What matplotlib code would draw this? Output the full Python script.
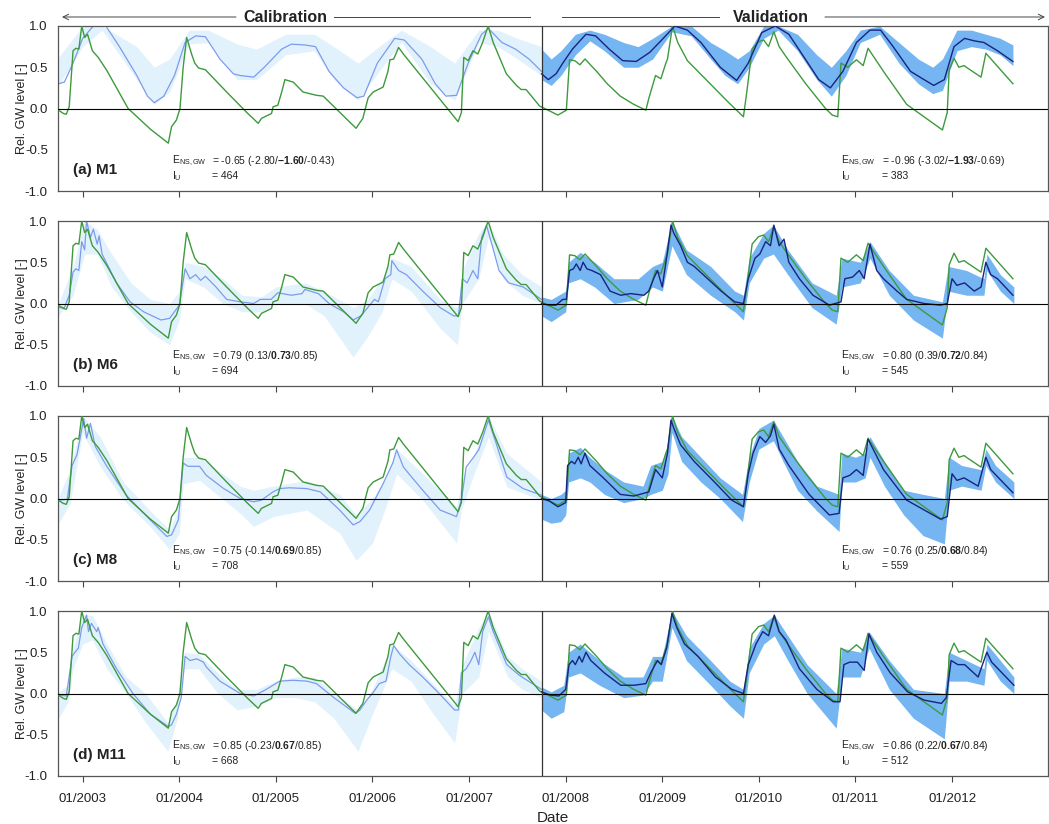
import matplotlib
matplotlib.use("Agg")
import matplotlib.pyplot as plt
from matplotlib.lines import Line2D

plt.rcParams['font.family'] = ['Liberation Sans', 'DejaVu Sans']
plt.rcParams['mathtext.fontset'] = 'custom'
plt.rcParams['mathtext.rm'] = 'Liberation Sans'
plt.rcParams['mathtext.bf'] = 'Liberation Sans:bold'
plt.rcParams['mathtext.it'] = 'Liberation Sans:italic'

# observed relative groundwater level (decimal year, value) - same in every panel
obs = [(2002.748, -0.02), (2002.80, -0.06), (2002.83, -0.07), (2002.86, 0.02), (2002.90, 0.70), (2002.93, 0.73),
       (2002.96, 0.72), (2002.99, 1.00), (2003.02, 0.86), (2003.05, 0.90), (2003.10, 0.70), (2003.16, 0.62),
       (2003.25, 0.46), (2003.47, 0.00), (2003.70, -0.25), (2003.886, -0.42), (2003.92, -0.22), (2003.97, -0.14),
       (2004.007, 0.00), (2004.04, 0.50), (2004.076, 0.86), (2004.13, 0.65), (2004.16, 0.55), (2004.20, 0.49),
       (2004.27, 0.47), (2004.49, 0.20), (2004.70, -0.05), (2004.817, -0.18), (2004.85, -0.12), (2004.92, -0.08),
       (2004.955, -0.06), (2004.97, 0.02), (2005.02, 0.04), (2005.06, 0.20), (2005.093, 0.35), (2005.18, 0.32),
       (2005.28, 0.20), (2005.42, 0.16), (2005.49, 0.15), (2005.83, -0.24), (2005.87, -0.17), (2005.90, -0.12),
       (2005.955, 0.13), (2006.007, 0.20), (2006.11, 0.26), (2006.16, 0.45), (2006.18, 0.59), (2006.22, 0.60),
       (2006.27, 0.74), (2006.32, 0.66), (2006.886, -0.16), (2006.92, -0.05), (2006.945, 0.62), (2006.99, 0.58),
       (2007.04, 0.70), (2007.09, 0.66), (2007.14, 0.80), (2007.197, 1.00), (2007.25, 0.80), (2007.386, 0.42),
       (2007.49, 0.28), (2007.54, 0.23), (2007.59, 0.23), (2007.73, 0.03), (2007.92, -0.08), (2008.007, -0.02),
       (2008.04, 0.59), (2008.094, 0.58), (2008.147, 0.53), (2008.20, 0.60), (2008.32, 0.45), (2008.43, 0.30),
       (2008.565, 0.15), (2008.705, 0.05), (2008.83, -0.02), (2008.86, 0.12), (2008.93, 0.40), (2008.985, 0.36),
       (2009.037, 0.55), (2009.054, 0.60), (2009.106, 1.00), (2009.16, 0.80), (2009.26, 0.58), (2009.47, 0.33),
       (2009.68, 0.08), (2009.84, -0.10), (2009.875, 0.20), (2009.93, 0.72), (2009.996, 0.81), (2010.05, 0.83),
       (2010.10, 0.75), (2010.155, 0.93), (2010.21, 0.75), (2010.28, 0.63), (2010.485, 0.30), (2010.69, 0.00),
       (2010.76, -0.08), (2010.817, -0.10), (2010.85, 0.55), (2010.92, 0.50), (2011.01, 0.59), (2011.08, 0.52),
       (2011.13, 0.73), (2011.29, 0.45), (2011.53, 0.05), (2011.90, -0.26), (2011.95, -0.05), (2011.97, 0.47),
       (2012.02, 0.61), (2012.07, 0.50), (2012.125, 0.52), (2012.16, 0.49), (2012.30, 0.38), (2012.35, 0.67),
       (2012.63, 0.30)]

# ---- M1 ----
m1_cal = [(2002.75, 0.30), (2002.81, 0.32), (2002.90, 0.55), (2003.00, 0.85), (2003.11, 1.00), (2003.24, 1.00),
          (2003.38, 0.75), (2003.56, 0.40), (2003.67, 0.15), (2003.74, 0.07), (2003.84, 0.15), (2003.95, 0.40),
          (2004.06, 0.80), (2004.17, 0.88), (2004.27, 0.87), (2004.42, 0.60), (2004.56, 0.42), (2004.63, 0.40),
          (2004.77, 0.38), (2004.88, 0.50), (2005.06, 0.72), (2005.16, 0.78), (2005.30, 0.77), (2005.41, 0.75),
          (2005.55, 0.45), (2005.70, 0.25), (2005.84, 0.13), (2005.91, 0.15), (2006.05, 0.55), (2006.23, 0.85),
          (2006.33, 0.83), (2006.51, 0.60), (2006.65, 0.30), (2006.76, 0.15), (2006.87, 0.16), (2006.99, 0.55),
          (2007.13, 0.90), (2007.20, 0.97), (2007.34, 0.80), (2007.48, 0.72), (2007.62, 0.60), (2007.75, 0.45)]
m1_cal_band = [(2002.75, 0.28, 0.62), (2003.00, 0.75, 1.00), (2003.20, 0.95, 1.00), (2003.56, 0.35, 0.75),
               (2003.74, 0.05, 0.50), (2003.90, 0.20, 0.60), (2004.10, 0.78, 0.95), (2004.30, 0.80, 0.95),
               (2004.60, 0.35, 0.78), (2004.80, 0.35, 0.72), (2005.10, 0.65, 0.90), (2005.40, 0.70, 0.90),
               (2005.60, 0.35, 0.75), (2005.85, 0.10, 0.55), (2006.10, 0.50, 0.78), (2006.30, 0.80, 0.95),
               (2006.60, 0.30, 0.75), (2006.85, 0.10, 0.55), (2007.10, 0.80, 0.95), (2007.30, 0.75, 0.95),
               (2007.50, 0.60, 0.85), (2007.75, 0.40, 0.75)]
m1_val = [(2007.75, 0.42), (2007.82, 0.35), (2007.90, 0.42), (2007.97, 0.55), (2008.07, 0.72), (2008.21, 0.90),
          (2008.31, 0.88), (2008.45, 0.72), (2008.59, 0.58), (2008.73, 0.57), (2008.87, 0.68), (2009.01, 0.85),
          (2009.13, 1.00), (2009.26, 0.95), (2009.40, 0.80), (2009.60, 0.50), (2009.77, 0.34), (2009.89, 0.55),
          (2010.03, 0.92), (2010.17, 1.00), (2010.31, 0.90), (2010.48, 0.60), (2010.62, 0.35), (2010.74, 0.25),
          (2010.87, 0.45), (2011.01, 0.80), (2011.15, 0.95), (2011.26, 0.95), (2011.39, 0.75), (2011.57, 0.45),
          (2011.71, 0.35), (2011.81, 0.28), (2011.92, 0.35), (2012.02, 0.75), (2012.13, 0.85), (2012.23, 0.82),
          (2012.33, 0.80), (2012.47, 0.70), (2012.63, 0.57)]
m1_val_band = [(2007.75, 0.35, 0.72), (2007.85, 0.28, 0.60), (2007.95, 0.40, 0.70), (2008.10, 0.65, 0.90),
               (2008.25, 0.82, 0.95), (2008.40, 0.70, 0.90), (2008.60, 0.50, 0.80), (2008.75, 0.50, 0.75),
               (2008.90, 0.60, 0.85), (2009.10, 0.93, 1.00), (2009.30, 0.88, 1.00), (2009.50, 0.60, 0.80),
               (2009.65, 0.40, 0.70), (2009.78, 0.30, 0.60), (2009.90, 0.50, 0.70), (2010.05, 0.85, 1.00),
               (2010.20, 0.95, 1.00), (2010.40, 0.70, 0.90), (2010.60, 0.35, 0.65), (2010.75, 0.15, 0.50),
               (2010.90, 0.40, 0.70), (2011.05, 0.80, 0.95), (2011.25, 0.90, 1.00), (2011.45, 0.55, 0.80),
               (2011.65, 0.30, 0.60), (2011.80, 0.18, 0.50), (2011.90, 0.22, 0.60), (2012.05, 0.70, 0.95),
               (2012.20, 0.75, 0.95), (2012.35, 0.72, 0.90), (2012.50, 0.65, 0.85), (2012.63, 0.52, 0.77)]

# ---- M6 ----
m6_cal = [(2002.75, -0.05), (2002.81, -0.05), (2002.86, 0.10), (2002.90, 0.38), (2002.93, 0.42), (2002.96, 0.40),
          (2002.99, 0.75), (2003.02, 0.65), (2003.04, 1.00), (2003.08, 0.80), (2003.11, 0.90), (2003.15, 0.72),
          (2003.17, 0.82), (2003.20, 0.60), (2003.35, 0.25), (2003.49, 0.02), (2003.63, -0.10), (2003.81, -0.20),
          (2003.90, -0.18), (2003.95, -0.10), (2004.00, -0.02), (2004.06, 0.42), (2004.11, 0.30), (2004.17, 0.35),
          (2004.22, 0.28), (2004.27, 0.33), (2004.38, 0.20), (2004.49, 0.05), (2004.63, 0.02), (2004.77, 0.00),
          (2004.84, 0.05), (2004.95, 0.05), (2005.02, 0.13), (2005.16, 0.10), (2005.27, 0.12), (2005.30, 0.17),
          (2005.44, 0.12), (2005.55, 0.00), (2005.70, -0.10), (2005.80, -0.20), (2005.88, -0.15), (2005.95, -0.05),
          (2006.02, 0.05), (2006.06, 0.02), (2006.13, 0.30), (2006.19, 0.35), (2006.20, 0.52), (2006.27, 0.40),
          (2006.35, 0.35), (2006.52, 0.15), (2006.70, -0.05), (2006.84, -0.15), (2006.89, -0.15), (2006.93, 0.30),
          (2006.98, 0.25), (2007.04, 0.40), (2007.09, 0.30), (2007.13, 0.80), (2007.18, 0.95), (2007.24, 0.70),
          (2007.31, 0.40), (2007.41, 0.25), (2007.56, 0.20), (2007.75, 0.05)]
m6_cal_band = [(2002.75, -0.15, 0.00), (2002.90, 0.10, 0.45), (2003.02, 0.60, 1.00), (2003.15, 0.60, 0.90),
               (2003.30, 0.20, 0.60), (2003.50, -0.10, 0.25), (2003.70, -0.35, 0.05), (2003.90, -0.50, 0.00),
               (2004.00, -0.20, 0.15), (2004.06, 0.30, 0.50), (2004.25, 0.20, 0.45), (2004.45, 0.00, 0.30),
               (2004.65, -0.10, 0.10), (2004.85, -0.10, 0.08), (2005.00, 0.00, 0.20), (2005.30, 0.00, 0.25),
               (2005.50, -0.15, 0.15), (2005.80, -0.65, -0.05), (2005.95, -0.40, 0.05), (2006.10, -0.10, 0.30),
               (2006.20, 0.30, 0.55), (2006.40, 0.15, 0.45), (2006.70, -0.30, 0.05), (2006.88, -0.50, -0.05),
               (2006.93, 0.00, 0.40), (2007.10, 0.30, 0.85), (2007.20, 0.80, 1.00), (2007.35, 0.30, 0.60),
               (2007.55, 0.10, 0.35), (2007.75, 0.00, 0.20)]
m6_val = [(2007.75, 0.00), (2007.83, -0.02), (2007.90, -0.02), (2007.97, 0.05), (2008.007, 0.05), (2008.04, 0.40),
          (2008.08, 0.42), (2008.11, 0.48), (2008.15, 0.40), (2008.18, 0.50), (2008.22, 0.42), (2008.27, 0.40),
          (2008.36, 0.35), (2008.46, 0.15), (2008.57, 0.10), (2008.67, 0.12), (2008.81, 0.10), (2008.86, 0.15),
          (2008.91, 0.30), (2008.95, 0.40), (2009.00, 0.20), (2009.05, 0.60), (2009.09, 0.95), (2009.12, 0.85),
          (2009.19, 0.70), (2009.26, 0.50), (2009.33, 0.45), (2009.47, 0.30), (2009.61, 0.15), (2009.75, 0.02),
          (2009.84, 0.00), (2009.89, 0.30), (2009.96, 0.55), (2010.01, 0.60), (2010.07, 0.75), (2010.12, 0.70),
          (2010.155, 0.95), (2010.21, 0.70), (2010.26, 0.78), (2010.31, 0.50), (2010.42, 0.30), (2010.56, 0.10),
          (2010.73, -0.02), (2010.85, 0.02), (2010.89, 0.30), (2010.97, 0.32), (2011.04, 0.40), (2011.09, 0.30),
          (2011.15, 0.72), (2011.22, 0.40), (2011.29, 0.30), (2011.43, 0.15), (2011.53, 0.05), (2011.71, 0.00),
          (2011.88, -0.02), (2011.95, 0.00), (2012.00, 0.30), (2012.05, 0.22), (2012.13, 0.25), (2012.23, 0.15),
          (2012.30, 0.20), (2012.35, 0.50), (2012.40, 0.35), (2012.47, 0.30), (2012.63, 0.10)]
m6_val_band = [(2007.75, -0.15, 0.08), (2007.85, -0.22, 0.05), (2008.00, -0.10, 0.15), (2008.03, 0.25, 0.50),
               (2008.15, 0.30, 0.62), (2008.30, 0.20, 0.50), (2008.50, 0.00, 0.30), (2008.75, 0.05, 0.30),
               (2008.90, 0.20, 0.45), (2009.00, 0.15, 0.50), (2009.10, 0.70, 1.00), (2009.25, 0.35, 0.65),
               (2009.50, 0.10, 0.45), (2009.75, -0.10, 0.15), (2009.84, -0.20, 0.10), (2009.90, 0.25, 0.55),
               (2010.05, 0.55, 0.85), (2010.15, 0.60, 0.95), (2010.30, 0.35, 0.65), (2010.55, -0.05, 0.25),
               (2010.80, -0.25, 0.10), (2010.86, 0.20, 0.55), (2011.05, 0.25, 0.50), (2011.15, 0.55, 0.75),
               (2011.35, 0.10, 0.40), (2011.60, -0.20, 0.10), (2011.90, -0.42, 0.02), (2011.96, 0.15, 0.45),
               (2012.15, 0.10, 0.40), (2012.33, 0.10, 0.30), (2012.36, 0.40, 0.60), (2012.50, 0.15, 0.35),
               (2012.64, 0.00, 0.20)]

# ---- M8 ----
m8_cal = [(2002.75, -0.02), (2002.84, -0.01), (2002.89, 0.40), (2002.94, 0.53), (2002.97, 0.71), (2003.01, 0.97),
          (2003.04, 0.73), (2003.08, 0.91), (2003.13, 0.63), (2003.25, 0.39), (2003.45, 0.04), (2003.70, -0.26),
          (2003.87, -0.46), (2003.92, -0.44), (2003.99, -0.26), (2004.04, 0.43), (2004.09, 0.39), (2004.21, 0.39),
          (2004.28, 0.28), (2004.46, 0.12), (2004.63, 0.00), (2004.77, -0.04), (2004.85, -0.02), (2004.97, 0.08),
          (2005.04, 0.12), (2005.14, 0.13), (2005.32, 0.12), (2005.46, 0.08), (2005.66, -0.14), (2005.80, -0.32),
          (2005.87, -0.28), (2005.97, -0.14), (2006.11, 0.18), (2006.21, 0.43), (2006.25, 0.59), (2006.32, 0.38),
          (2006.52, 0.10), (2006.70, -0.14), (2006.87, -0.22), (2006.92, -0.02), (2006.97, 0.38), (2007.04, 0.49),
          (2007.10, 0.59), (2007.20, 0.95), (2007.28, 0.67), (2007.39, 0.26), (2007.56, 0.12), (2007.75, 0.04)]
m8_cal_band = [(2002.75, -0.30, 0.02), (2002.87, -0.06, 0.35), (2003.00, 0.80, 1.00), (2003.18, 0.39, 0.75),
               (2003.42, -0.02, 0.20), (2003.70, -0.34, -0.15), (2003.90, -0.62, -0.38), (2004.00, -0.42, -0.10),
               (2004.04, 0.18, 0.50), (2004.21, 0.22, 0.50), (2004.63, -0.18, 0.15), (2004.77, -0.34, 0.10),
               (2004.97, -0.22, 0.15), (2005.32, -0.14, 0.22), (2005.66, -0.42, 0.05), (2005.83, -0.75, -0.20),
               (2006.00, -0.54, 0.00), (2006.14, -0.10, 0.25), (2006.25, 0.30, 0.60), (2006.52, -0.02, 0.30),
               (2006.87, -0.54, -0.10), (2006.92, -0.14, 0.20), (2007.04, 0.26, 0.50), (2007.20, 0.75, 1.00),
               (2007.39, 0.14, 0.55), (2007.75, -0.02, 0.20)]
m8_val = [(2007.75, 0.00), (2007.83, -0.03), (2007.92, -0.10), (2008.00, -0.05), (2008.02, 0.40), (2008.06, 0.45),
          (2008.094, 0.42), (2008.13, 0.50), (2008.16, 0.42), (2008.20, 0.55), (2008.25, 0.40), (2008.39, 0.25),
          (2008.565, 0.05), (2008.705, 0.03), (2008.86, 0.08), (2008.93, 0.35), (2009.00, 0.25), (2009.054, 0.55),
          (2009.09, 0.95), (2009.12, 0.85), (2009.19, 0.65), (2009.33, 0.45), (2009.54, 0.20), (2009.72, -0.02),
          (2009.84, -0.10), (2009.89, 0.30), (2009.94, 0.55), (2010.01, 0.75), (2010.07, 0.68), (2010.12, 0.76),
          (2010.155, 0.90), (2010.21, 0.60), (2010.31, 0.40), (2010.52, 0.05), (2010.73, -0.20), (2010.83, -0.18),
          (2010.87, 0.25), (2010.94, 0.28), (2011.01, 0.35), (2011.08, 0.28), (2011.13, 0.72), (2011.29, 0.35),
          (2011.53, -0.02), (2011.88, -0.25), (2011.95, -0.22), (2012.00, 0.30), (2012.05, 0.22), (2012.125, 0.25),
          (2012.27, 0.15), (2012.35, 0.50), (2012.40, 0.35), (2012.63, 0.07)]
m8_val_band = [(2007.75, -0.25, 0.05), (2007.85, -0.30, 0.00), (2007.95, -0.28, 0.05), (2008.00, -0.20, 0.10),
               (2008.03, 0.20, 0.55), (2008.15, 0.25, 0.62), (2008.25, 0.20, 0.50), (2008.40, 0.05, 0.35),
               (2008.60, -0.05, 0.20), (2008.80, 0.00, 0.15), (2008.88, 0.05, 0.40), (2009.00, 0.10, 0.45),
               (2009.06, 0.30, 0.65), (2009.10, 0.80, 1.00), (2009.20, 0.45, 0.75), (2009.40, 0.20, 0.50),
               (2009.60, 0.00, 0.25), (2009.83, -0.28, 0.05), (2009.90, 0.20, 0.50), (2010.00, 0.60, 0.85),
               (2010.15, 0.70, 0.95), (2010.25, 0.45, 0.75), (2010.40, 0.10, 0.45), (2010.60, -0.15, 0.15),
               (2010.83, -0.40, 0.05), (2010.86, 0.20, 0.55), (2011.00, 0.20, 0.50), (2011.10, 0.25, 0.55),
               (2011.15, 0.50, 0.75), (2011.30, 0.15, 0.45), (2011.50, -0.20, 0.10), (2011.70, -0.45, 0.05),
               (2011.92, -0.55, 0.00), (2011.97, 0.10, 0.50), (2012.10, 0.15, 0.40), (2012.30, 0.10, 0.35),
               (2012.35, 0.40, 0.60), (2012.45, 0.20, 0.40), (2012.64, 0.00, 0.20)]

# ---- M11 ----
m11_cal = [(2002.75, -0.02), (2002.83, -0.03), (2002.89, 0.45), (2002.92, 0.50), (2002.955, 0.55), (2002.99, 0.80),
           (2003.04, 0.95), (2003.06, 0.75), (2003.09, 0.85), (2003.145, 0.75), (2003.16, 0.80), (2003.21, 0.60),
           (2003.35, 0.30), (2003.52, 0.00), (2003.70, -0.25), (2003.886, -0.40), (2003.92, -0.38), (2003.97, -0.25),
           (2004.02, -0.05), (2004.06, 0.45), (2004.11, 0.40), (2004.18, 0.42), (2004.25, 0.38), (2004.28, 0.32),
           (2004.42, 0.15), (2004.63, 0.00), (2004.77, -0.03), (2004.82, 0.00), (2004.90, 0.05), (2004.97, 0.10),
           (2005.04, 0.15), (2005.18, 0.16), (2005.32, 0.15), (2005.42, 0.12), (2005.60, -0.05), (2005.82, -0.24),
           (2005.87, -0.20), (2005.94, -0.08), (2006.00, 0.00), (2006.07, 0.12), (2006.14, 0.15), (2006.19, 0.45),
           (2006.22, 0.58), (2006.28, 0.48), (2006.38, 0.35), (2006.52, 0.20), (2006.69, 0.00), (2006.85, -0.20),
           (2006.89, -0.20), (2006.92, 0.25), (2006.97, 0.30), (2007.02, 0.40), (2007.06, 0.50), (2007.10, 0.35),
           (2007.14, 0.75), (2007.20, 0.93), (2007.25, 0.75), (2007.39, 0.35), (2007.52, 0.22), (2007.75, 0.05)]
m11_cal_band = [(2002.75, -0.30, 0.02), (2002.85, -0.10, 0.10), (2002.90, 0.30, 0.55), (2003.00, 0.60, 0.95),
                (2003.10, 0.65, 0.95), (2003.25, 0.30, 0.60), (2003.45, 0.00, 0.20), (2003.65, -0.35, 0.00),
                (2003.88, -0.70, -0.35), (2003.98, -0.30, -0.05), (2004.05, 0.30, 0.50), (2004.20, 0.30, 0.48),
                (2004.40, 0.00, 0.25), (2004.60, -0.20, 0.05), (2004.80, -0.15, 0.05), (2005.00, -0.05, 0.15),
                (2005.20, -0.05, 0.20), (2005.40, -0.10, 0.20), (2005.60, -0.30, 0.00), (2005.85, -0.70, -0.20),
                (2006.00, -0.25, 0.05), (2006.20, 0.30, 0.60), (2006.40, 0.15, 0.40), (2006.60, -0.20, 0.15),
                (2006.85, -0.60, -0.15), (2006.93, 0.00, 0.35), (2007.10, 0.20, 0.80), (2007.20, 0.75, 1.00),
                (2007.40, 0.20, 0.45), (2007.55, 0.05, 0.30), (2007.75, -0.05, 0.15)]
m11_val = [(2007.75, 0.02), (2007.84, -0.02), (2007.93, -0.03), (2008.00, 0.05), (2008.035, 0.35), (2008.07, 0.40),
           (2008.10, 0.35), (2008.14, 0.45), (2008.17, 0.38), (2008.21, 0.50), (2008.26, 0.40), (2008.40, 0.25),
           (2008.57, 0.10), (2008.71, 0.10), (2008.83, 0.12), (2008.88, 0.25), (2008.95, 0.40), (2008.99, 0.35),
           (2009.045, 0.55), (2009.10, 0.97), (2009.15, 0.80), (2009.23, 0.60), (2009.37, 0.45), (2009.55, 0.20),
           (2009.72, 0.05), (2009.84, 0.00), (2009.89, 0.35), (2009.97, 0.60), (2010.04, 0.75), (2010.10, 0.70),
           (2010.16, 0.95), (2010.21, 0.75), (2010.28, 0.65), (2010.42, 0.30), (2010.60, 0.05), (2010.77, -0.10),
           (2010.84, -0.10), (2010.88, 0.35), (2010.94, 0.38), (2011.02, 0.38), (2011.09, 0.28), (2011.14, 0.72),
           (2011.22, 0.50), (2011.36, 0.25), (2011.54, 0.02), (2011.71, -0.08), (2011.89, -0.12), (2011.94, -0.05),
           (2011.99, 0.40), (2012.06, 0.35), (2012.13, 0.35), (2012.27, 0.20), (2012.36, 0.50), (2012.41, 0.38),
           (2012.64, 0.10)]
m11_val_band = [(2007.75, -0.20, 0.08), (2007.85, -0.30, 0.02), (2007.98, -0.22, 0.10), (2008.03, 0.20, 0.50),
                (2008.15, 0.25, 0.60), (2008.35, 0.10, 0.40), (2008.60, -0.05, 0.20), (2008.80, -0.02, 0.20),
                (2008.90, 0.15, 0.45), (2009.00, 0.15, 0.45), (2009.10, 0.80, 1.00), (2009.25, 0.40, 0.70),
                (2009.50, 0.10, 0.40), (2009.70, -0.15, 0.15), (2009.84, -0.30, 0.05), (2009.90, 0.25, 0.55),
                (2010.05, 0.60, 0.85), (2010.16, 0.70, 0.95), (2010.30, 0.40, 0.70), (2010.50, 0.00, 0.35),
                (2010.80, -0.42, 0.00), (2010.86, 0.20, 0.55), (2011.05, 0.20, 0.50), (2011.14, 0.55, 0.75),
                (2011.35, 0.05, 0.40), (2011.60, -0.30, 0.05), (2011.92, -0.55, 0.00), (2011.97, 0.15, 0.50),
                (2012.15, 0.15, 0.40), (2012.33, 0.10, 0.30), (2012.36, 0.40, 0.60), (2012.50, 0.15, 0.40),
                (2012.64, 0.00, 0.20)]

panel_labels = ['(a) M1', '(b) M6', '(c) M8', '(d) M11']
# E_NS,GW: value (min / bold median / max) and I_U, calibration and validation
e_cal = [-0.65, 0.79, 0.75, 0.85]
e_cal_min = [-2.80, 0.13, -0.14, -0.23]
e_cal_mid = [-1.60, 0.73, 0.69, 0.67]
e_cal_max = [-0.43, 0.85, 0.85, 0.85]
iu_cal = [464, 694, 708, 668]
e_val = [-0.96, 0.80, 0.76, 0.86]
e_val_min = [-3.02, 0.39, 0.25, 0.22]
e_val_mid = [-1.93, 0.72, 0.68, 0.67]
e_val_max = [-0.69, 0.84, 0.84, 0.84]
iu_val = [383, 545, 559, 512]

years = list(range(2003, 2013))
split = 2007.75

cal_line_c = '#7d9bec'
cal_band_c = '#e2f2fc'
val_line_c = '#1a237e'
val_band_c = '#74b5f2'
obs_c = '#3d9a3d'
txt_c = '#222222'

series = [(m1_cal, m1_cal_band, m1_val, m1_val_band),
          (m6_cal, m6_cal_band, m6_val, m6_val_band),
          (m8_cal, m8_cal_band, m8_val, m8_val_band),
          (m11_cal, m11_cal_band, m11_val, m11_val_band)]

W, H = 1049, 824
fig = plt.figure(figsize=(W / 100, H / 100), dpi=100)
left_px, right_px = 57.5, 1047.5
tops = [26, 221, 416, 611]
ph = 165


def fmt(v):
    return f"{v:.2f}"


def stat_text(ax, x_lab, x_eq, e, emin, emid, emax, iu):
    ax.text(x_lab, -0.64, r'E$_{\mathrm{NS,GW}}$', fontsize=7.5, color=txt_c, va='center')
    ax.text(x_eq, -0.64, '= ' + fmt(e) + ' (' + fmt(emin) + '/' + r'$\mathbf{' + fmt(emid) + '}$' + '/' + fmt(emax) + ')',
            fontsize=7.5, color=txt_c, va='center')
    ax.text(x_lab, -0.82, r'I$_{\mathrm{U}}$', fontsize=7.5, color=txt_c, va='center')
    ax.text(x_eq, -0.82, '= ' + str(iu), fontsize=7.5, color=txt_c, va='center')


for i, (cal, cal_band, val, val_band) in enumerate(series):
    ax = fig.add_axes([left_px / W, 1 - (tops[i] + ph) / H, (right_px - left_px) / W, ph / H])

    bt = [p[0] for p in cal_band]
    ax.fill_between(bt, [p[1] for p in cal_band], [p[2] for p in cal_band], color=cal_band_c, lw=0, zorder=1)
    bt = [p[0] for p in val_band]
    ax.fill_between(bt, [p[1] for p in val_band], [p[2] for p in val_band], color=val_band_c, lw=0, zorder=1)

    ax.plot([p[0] for p in cal], [p[1] for p in cal], color=cal_line_c, lw=0.9, zorder=2)
    ax.plot([p[0] for p in obs], [p[1] for p in obs], color=obs_c, lw=1.0, zorder=3)
    ax.plot([p[0] for p in val], [p[1] for p in val], color=val_line_c, lw=1.0, zorder=4)

    ax.axhline(0, color='black', lw=0.8, zorder=5)
    ax.axvline(split, color='#333333', lw=0.9, zorder=5)

    ax.set_xlim(2002.739, 2012.988)
    ax.set_ylim(-1, 1)
    ax.set_yticks([-1.0, -0.5, 0.0, 0.5, 1.0])
    ax.set_yticklabels(['-1.0', '-0.5', '0.0', '0.5', '1.0'])
    ax.set_xticks(years)
    if i == 3:
        ax.set_xticklabels(['01/' + str(y) for y in years])
        ax.set_xlabel('Date', fontsize=11, color=txt_c)
        ax.xaxis.set_label_coords(0.5, -0.215)
    else:
        ax.set_xticklabels([])
    ax.tick_params(axis='x', direction='out', length=4, width=0.8, colors='#444444', labelsize=9.5,
                   labelcolor=txt_c, pad=8)
    ax.tick_params(axis='y', length=0, labelsize=9.5, labelcolor=txt_c, pad=7)
    ax.set_ylabel('Rel. GW level [-]', fontsize=9, color=txt_c, labelpad=-2)
    for s in ax.spines.values():
        s.set_color('#555555')
        s.set_linewidth(0.9)

    ax.text(2002.90, -0.74, panel_labels[i], fontsize=11, fontweight='bold', color=txt_c, va='center')
    stat_text(ax, 2003.92, 2004.34, e_cal[i], e_cal_min[i], e_cal_mid[i], e_cal_max[i], iu_cal[i])
    stat_text(ax, 2010.85, 2011.27, e_val[i], e_val_min[i], e_val_mid[i], e_val_max[i], iu_val[i])

# calibration / validation header with arrows
yh = 1 - 17 / H
arr = dict(arrowstyle='->', lw=0.7, color='#444444', shrinkA=0, shrinkB=0)
fig.add_artist(plt.Annotation('', xy=(62 / W, yh), xytext=(236 / W, yh), xycoords='figure fraction',
                              textcoords='figure fraction', arrowprops=arr))
fig.add_artist(Line2D([334 / W, 530 / W], [yh, yh], lw=0.7, color='#444444', transform=fig.transFigure))
fig.text(285 / W, yh, 'Calibration', fontsize=11.5, fontweight='bold', color=txt_c, ha='center', va='center')
fig.add_artist(Line2D([562 / W, 719 / W], [yh, yh], lw=0.7, color='#444444', transform=fig.transFigure))
fig.add_artist(plt.Annotation('', xy=(1045 / W, yh), xytext=(825 / W, yh), xycoords='figure fraction',
                              textcoords='figure fraction', arrowprops=arr))
fig.text(771 / W, yh, 'Validation', fontsize=11.5, fontweight='bold', color=txt_c, ha='center', va='center')

fig.savefig('out.png', dpi=100)
